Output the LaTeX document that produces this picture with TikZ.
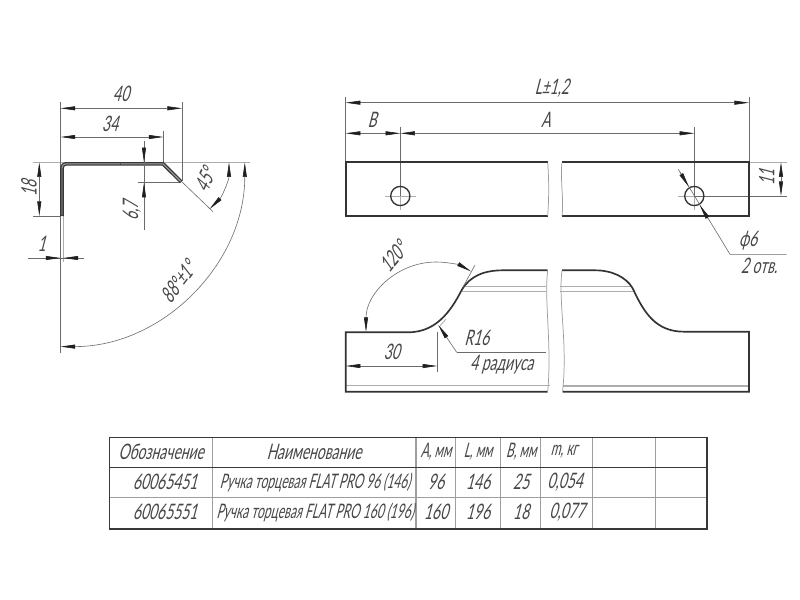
\documentclass[tikz,border=0pt]{standalone}
\usepackage{fontspec}
\usetikzlibrary{arrows.meta}
\newfontfamily\gostfont[FakeSlant=0.26,FakeStretch=0.65]{Lato}
\newfontfamily\gostnarrow[FakeSlant=0.26,FakeStretch=0.60]{Lato}
\tikzset{
  x=0.75pt,y=-0.75pt,
  thinline/.style={draw=black!58,line width=0.45pt},
  dimline/.style={thinline,{Triangle[length=11pt,width=3pt,color=black!88]}-{Triangle[length=11pt,width=3pt,color=black!88]}},
  oneway/.style={thinline,-{Triangle[length=11pt,width=3pt,color=black!88]}},
  faint/.style={draw=black!32,line width=0.6pt},
  outline/.style={draw=black!80,line width=1.25pt,line join=miter},
  tablethick/.style={draw=black!78,line width=1.2pt},
  tablethin/.style={draw=black!38,line width=0.8pt},
  breakline/.style={draw=black!38,line width=0.55pt},
  lab/.style={font=\gostfont\fontsize{16pt}{18pt}\selectfont,text=black!72,inner sep=0pt},
  cell/.style={font=\gostnarrow\fontsize{15pt}{17pt}\selectfont,text=black!72,inner sep=0pt},
}
\begin{document}
\begin{tikzpicture}
\useasboundingbox (0,0) rectangle (800,600);
\fill[white] (0,0) rectangle (800,600);

% ---------- profile ----------
\draw[faint,line width=0.5pt] (33,162.3) -- (250,162.3);
\draw[thinline] (33,216) -- (60.5,216);
\draw[thinline] (60.5,102) -- (60.5,352.7);
\draw[faint] (63.5,216) -- (63.5,262);
\draw[thinline] (182,102) -- (182,181);
\draw[thinline] (163.5,131) -- (163.5,162);
\draw[thinline] (138,182.7) -- (181,182.7);
\draw[thinline] (181,181) -- (213,211.7);
\draw[draw=black!78,line width=2.7pt,line join=round] (62,216) -- (62,167.8) arc (180:270:4) -- (163,163.8) -- (181.2,181.8);
\draw[draw=black!35,line width=0.7pt,line join=round] (62,215) -- (62,167.8) arc (180:270:4) -- (163,163.8) -- (180.7,181.3);
\draw[draw=black!70,line width=0.5pt] (120,162.3) -- (120,165.3);

\draw[dimline] (60.5,108.3) -- (182,108.3);
\draw[dimline] (60.5,137) -- (163.5,137);
\draw[dimline] (39.3,162.3) -- (39.3,216);
\draw[thinline] (144,140.7) -- (144,230);
\draw[oneway] (144,147) -- (144,162.3);
\draw[oneway] (144,198) -- (144,182.7);
\draw[thinline] (28,258) -- (84,258);
\draw[oneway] (45,258) -- (60.5,258);
\draw[oneway] (79,258) -- (63.5,258);
\draw[dimline] (244.8,162.3) arc (0:90:184.3);
\draw[dimline] (229,162.3) arc (0:45:66);

\node[lab] (t40) at (121,94) {40};
\node[lab] (t34) at (110,124) {34};
\node[lab,rotate=90] (t18) at (29,188) {18};
\node[lab,rotate=90] (t67) at (132,211) {6,7};
\node[lab] (t1) at (41.7,244) {1};
\node[lab,rotate=65] (t45) at (205,180) {45°};
\node[lab,rotate=53] (t88) at (178,282) {88°±1°};

% ---------- top view ----------
\draw[thinline] (345.7,96.7) -- (345.7,162);
\draw[thinline] (749,96.7) -- (749,162);
\draw[thinline] (400.3,127) -- (400.3,196);
\draw[faint] (400.3,196) -- (400.3,210);
\draw[faint] (385,196) -- (415.7,196);
\draw[thinline] (694.3,127) -- (694.3,196);
\draw[faint] (694.3,196) -- (694.3,210);
\draw[faint] (678.3,196) -- (694,196);
\draw[thinline] (694,196) -- (786.7,196);
\draw[faint] (749,162.3) -- (786.7,162.3);
\draw[outline] (547.7,162.3) -- (345.7,162.3) -- (345.7,216) -- (547.7,216);
\draw[outline] (562,162.3) -- (749,162.3) -- (749,216) -- (562,216);
\draw[breakline] (547.7,162.3) .. controls (549,180) and (549,198) .. (547.7,216);
\draw[breakline] (562,162.3) .. controls (560,180) and (564,198) .. (562,216);
\draw[outline,line width=1pt] (400.3,196) circle (9.6);
\draw[outline,line width=1pt] (694.3,196) circle (9.6);

\draw[dimline] (345.7,102.7) -- (749,102.7);
\draw[dimline] (345.7,133.3) -- (400.3,133.3);
\draw[dimline] (400.3,133.3) -- (694.3,133.3);
\draw[dimline] (781,162.3) -- (781,196);
\draw[thinline] (678.3,169.3) -- (730,254.3) -- (786.7,254.3);
\draw[oneway] (680,172) -- (688.8,186.8);
\draw[oneway] (708,218.5) -- (699.8,205.2);

\node[lab] (tL) at (551.7,88) {L±1,2};
\node[lab] (tB) at (372,120) {B};
\node[lab] (tA) at (545.7,120) {A};
\node[lab,rotate=90] (t11) at (766.7,177) {11};
\node[lab] (tphi) at (748,240.7) {ϕ6};
\node[lab] (t2o) at (759,266) {2 отв.};

% ---------- front view ----------
\draw[faint,line width=0.9pt] (345.7,385.7) -- (550,385.7);
\draw[faint,line width=0.9pt] (563,386) -- (749,386);
\draw[faint,line width=0.9pt] (463,286.7) -- (546,286.7);
\draw[faint,line width=0.9pt] (461,291.3) -- (546,291.3);
\draw[faint,line width=0.9pt] (560,286.7) -- (632,286.7);
\draw[faint,line width=0.9pt] (560,291.3) -- (634,291.3);

\draw[outline] (547.7,270.3) -- (503,270.3)
  .. controls (484,270.3) and (470,276) .. (461.7,290)
  .. controls (450,313) and (435,332.3) .. (408,332.3)
  -- (345.7,332.3) -- (345.7,391.7) -- (547.7,391.7);
\draw[outline] (562,270.3) -- (595,270.3)
  .. controls (612,270.3) and (626,277) .. (632.7,288.3)
  .. controls (644,313) and (656,331.7) .. (684,331.7)
  -- (749,331.7) -- (749,391.7) -- (562.5,391.7);
\draw[breakline] (547.7,270.3) .. controls (544,300) and (552,345) .. (547.7,391.7);
\draw[breakline] (562,270.3) .. controls (558,300) and (568,345) .. (562.5,391.7);

\draw[thinline] (437.3,331.7) -- (437.3,371.7);
\draw[dimline] (345.7,366) -- (437.3,366);
\draw[dimline] (366,332) arc (180:300:70);
\draw[thinline] (475,265) -- (463,287);
\draw[faint] (446,319) -- (439,327);
\draw[oneway] (456.7,352.3) -- (438.3,325);
\draw[thinline] (456.7,352.3) -- (546,352.3);

\node[lab] (t30) at (391.7,351.7) {30};
\node[lab,rotate=50] (t120) at (393,257) {120°};
\node[lab] (tR) at (476.7,338.3) {R16};
\node[lab] (t4r) at (501.7,365) {4 радиуса};

% ---------- table ----------
\foreach \vx in {212.7,416,455.7,500.7,540.7,592.3,655.7}
  \draw[tablethin] (\vx,437.3) -- (\vx,528.7);
\draw[tablethin] (109.3,497.7) -- (706.7,497.7);
\draw[tablethick] (109.3,467.3) -- (706.7,467.3);
\draw[tablethick] (109.3,437.3) rectangle (706.7,528.7);

\node[lab] (h1) at (161,452) {Обозначение};
\node[lab] (h2) at (314,452) {Наименование};
\node[cell] (h3) at (436,452) {A, мм};
\node[cell] (h4) at (478,452) {L, мм};
\node[cell] (h5) at (521,452) {B, мм};
\node[cell] (h6) at (564,452) {m, кг};
\node[lab] (a1) at (165,482) {60065451};
\node[cell] (a2) at (315,482) {Ручка торцевая FLAT PRO 96 (146)};
\node[lab] (a3) at (436,482) {96};
\node[lab] (a4) at (478,482) {146};
\node[lab] (a5) at (521,482) {25};
\node[lab] (a6) at (565,482) {0,054};
\node[lab] (b1) at (165,512) {60065551};
\node[cell] (b2) at (315,512) {Ручка торцевая FLAT PRO 160 (196)};
\node[lab] (b3) at (436,512) {160};
\node[lab] (b4) at (478,512) {196};
\node[lab] (b5) at (521,512) {18};
\node[lab] (b6) at (567,512) {0,077};
\end{tikzpicture}
\end{document}
